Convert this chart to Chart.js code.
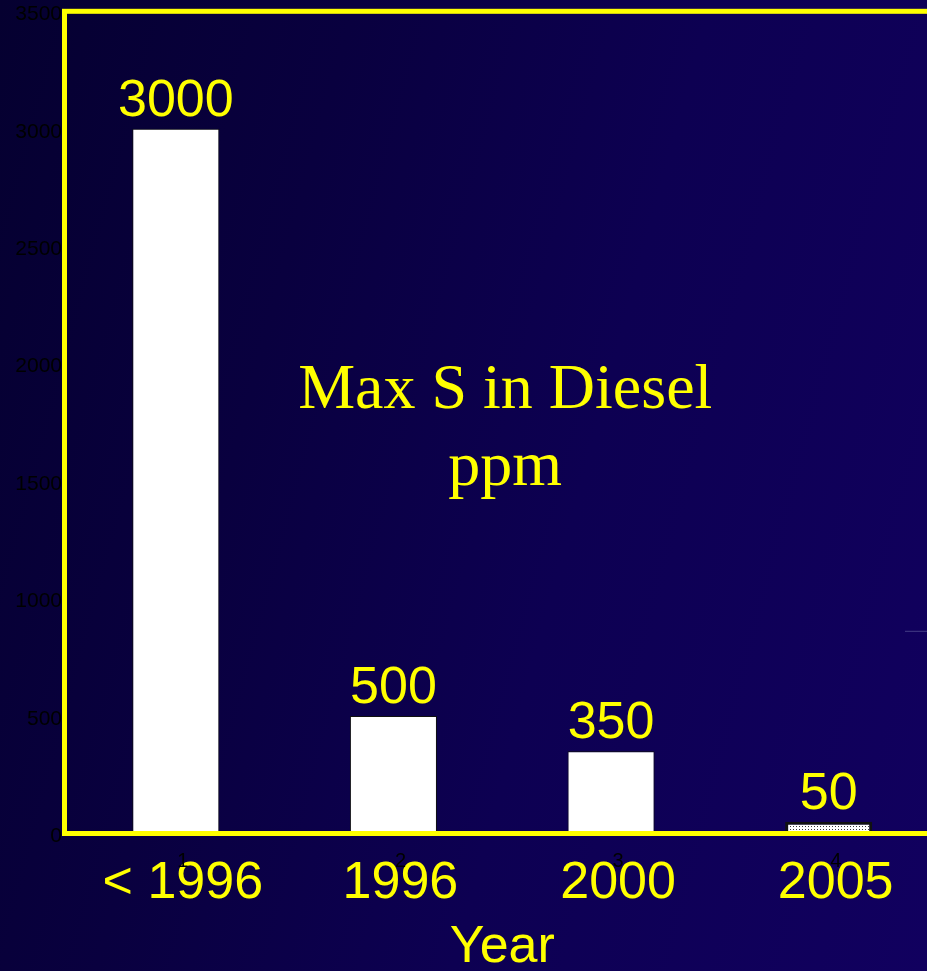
<!DOCTYPE html>
<html>
<head>
<meta charset="utf-8">
<script src="https://cdn.jsdelivr.net/npm/chart.js@4.4.1/dist/chart.umd.min.js"></script>
<style>
  html, body { margin: 0; padding: 0; width: 927px; height: 971px; overflow: hidden; }
  body { background: linear-gradient(105deg, #050030 0%, #09003f 30%, #0d0052 60%, #11005f 100%); }
  #wrap { position: absolute; left: 0; top: 0; width: 950px; height: 971px; }
</style>
</head>
<body>
<div id="wrap"><canvas id="c"></canvas></div>
<script>
// Maximum sulphur allowed in diesel fuel, by year
const years = ['< 1996', '1996', '2000', '2005'];
const seriesIndex = ['1', '2', '3', '4'];
const maxSulfurPpm = [3000, 500, 350, 50];
const yTickValues = [0, 500, 1000, 1500, 2000, 2500, 3000, 3500];
const chartTitle = ['Max S in Diesel', 'ppm'];
const xAxisTitle = 'Year';

const YELLOW = '#ffff00';
const SANS = 'Arial, "Liberation Sans", sans-serif';
const SERIF = '"Times New Roman", "Liberation Serif", serif';

// dotted fill used for the smallest bar
function dottedPattern() {
  const p = document.createElement('canvas');
  p.width = 3; p.height = 3;
  const g = p.getContext('2d');
  g.fillStyle = '#ffffff';
  g.fillRect(0, 0, 3, 3);
  g.fillStyle = '#3a3a3a';
  g.fillRect(1, 1, 1, 1);
  return g.createPattern(p, 'repeat');
}
const ctx0 = document.getElementById('c').getContext('2d');
const barFills = maxSulfurPpm.map((v, i) => i === maxSulfurPpm.length - 1 ? dottedPattern() : '#ffffff');
const barBorders = maxSulfurPpm.map((v, i) => i === maxSulfurPpm.length - 1 ? 3 : 1);

// yellow frame round the plot area, value labels, centre caption, index numbers
const decorations = {
  id: 'decorations',
  afterDatasetsDraw(chart) {
    const { ctx, chartArea: a } = chart;
    const meta = chart.getDatasetMeta(0);
    ctx.save();
    // frame
    ctx.strokeStyle = YELLOW;
    ctx.lineWidth = 5;
    ctx.strokeRect(a.left - 2.5, a.top, a.right - a.left + 10, a.bottom - a.top);
    // value labels above bars
    ctx.fillStyle = YELLOW;
    ctx.font = '52px ' + SANS;
    ctx.textAlign = 'center';
    ctx.textBaseline = 'alphabetic';
    meta.data.forEach((bar, i) => {
      ctx.fillText(String(maxSulfurPpm[i]), bar.x, bar.y - 13);
    });
    // caption inside the plot
    ctx.font = '64px ' + SERIF;
    const cx = (a.left + a.right) / 2 + 3;
    chartTitle.forEach((line, i) => {
      ctx.fillText(line, cx, a.top + 396.5 + i * 77);
    });
    ctx.restore();
  },
  afterDraw(chart) {
    const { ctx, chartArea: a } = chart;
    const xs = chart.scales.x;
    ctx.save();
    ctx.fillStyle = '#000000';
    ctx.font = '20px ' + SANS;
    ctx.textAlign = 'center';
    ctx.textBaseline = 'alphabetic';
    seriesIndex.forEach((t, i) => {
      ctx.fillText(t, xs.getPixelForValue(i) + 7, a.bottom + 33);
    });
    // faint rule at the right edge
    ctx.strokeStyle = 'rgba(110,110,170,0.55)';
    ctx.lineWidth = 1;
    ctx.beginPath();
    ctx.moveTo(905, a.top + 620);
    ctx.lineTo(950, a.top + 620);
    ctx.stroke();
    ctx.restore();
  }
};

new Chart(ctx0, {
  type: 'bar',
  data: {
    labels: years,
    datasets: [{
      data: maxSulfurPpm,
      backgroundColor: barFills,
      borderColor: '#111111',
      borderWidth: barBorders,
      borderSkipped: 'start',
      barPercentage: 0.40,
      categoryPercentage: 1.0
    }]
  },
  options: {
    responsive: true,
    maintainAspectRatio: false,
    animation: false,
    layout: { padding: { top: 10.5, right: 12.5, left: 0, bottom: 0 } },
    plugins: { legend: { display: false }, tooltip: { enabled: false }, title: { display: false } },
    scales: {
      x: {
        grid: { display: false, drawTicks: false },
        border: { display: false },
        ticks: {
          color: YELLOW,
          font: { family: SANS, size: 52 },
          padding: 19,
          labelOffset: 7,
          maxRotation: 0,
          autoSkip: false
        },
        title: {
          display: true,
          text: xAxisTitle,
          color: YELLOW,
          font: { family: SANS, size: 52, lineHeight: 0.88 },
          padding: 0
        },
        afterFit(scale) { scale.height = 137.5; }
      },
      y: {
        min: 0,
        max: 3500,
        grid: { display: false, drawTicks: false },
        border: { display: false },
        afterBuildTicks(scale) { scale.ticks = yTickValues.map(v => ({ value: v })); },
        ticks: {
          color: '#000000',
          font: { family: SANS, size: 21, lineHeight: 0.6 },
          padding: 5,
          labelOffset: 3,
          callback: (v) => String(v)
        },
        afterFit(scale) { scale.width = 67; }
      }
    }
  },
  plugins: [decorations]
});
</script>
</body>
</html>
